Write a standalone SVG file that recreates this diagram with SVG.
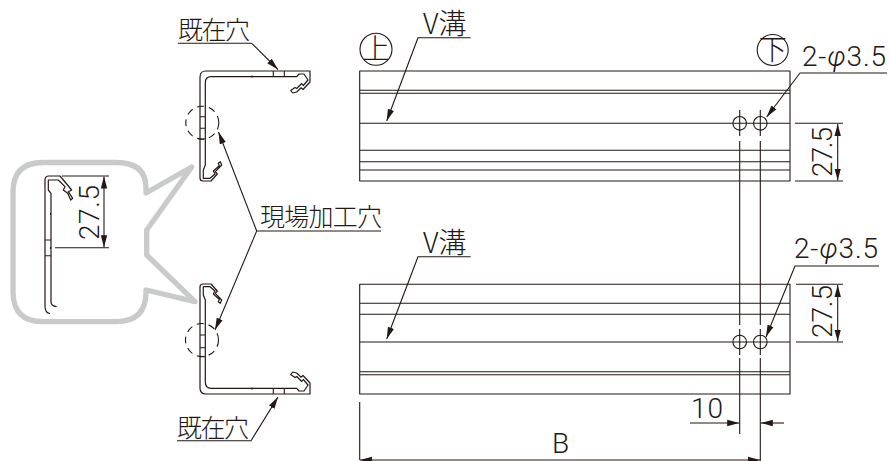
<svg xmlns="http://www.w3.org/2000/svg" width="889" height="461" viewBox="0 0 889 461">
<style>
.l{fill:none;stroke:#231815;stroke-width:1.1;stroke-linejoin:round}
.a{marker-end:url(#ar)}
.b{marker-start:url(#arS);marker-end:url(#ar)}
.p{fill:none;stroke:#231815;stroke-width:1.2;stroke-linejoin:round}
.t{font-family:Roboto,"Liberation Sans","Noto Sans CJK JP",sans-serif;font-weight:300;fill:#231815;font-size:28px}
.j{font-family:"Noto Sans CJK JP","Liberation Sans",sans-serif;font-weight:300;fill:#231815;font-size:25px}
.k{font-size:28px}
</style>
<defs>
<marker id="ar" markerUnits="userSpaceOnUse" markerWidth="13" markerHeight="8" refX="12" refY="4" orient="auto"><path d="M0,0.8 L12,4 L0,7.2Z" fill="#231815"/></marker>
<marker id="arS" markerUnits="userSpaceOnUse" markerWidth="13" markerHeight="8" refX="0" refY="4" orient="auto"><path d="M12,0.8 L0,4 L12,7.2Z" fill="#231815"/></marker>
<g id="profile">
<path class="p" d="M310,71 H206 Q200,71 200,77 V178 Q200,181 203,181 H211 L217.3,174 L215.3,171.7 L221.7,165 L220.3,161.7 L218.3,163.3 L219.3,165.7 L213.3,171 L215,174 L210,178.3 H203.3 V170 L205.3,165 V83 Q205.3,76.7 211,76.7 H296.7 L299,74 H304 L308,80 L303.3,85.5 L301.7,83.5 L296.7,88.5 L295,87.5 L290.7,90.5 L292.7,93 L296.7,92 L301,87.8 L303,89.5 L310,82 Z"/>
<path class="l" d="M273.3,71 V76.7 M284.3,71 V76.7 M252,75.5 V77.5"/>
</g>
</defs>

<g id="bubble">
<path d="M43,162.5 H116 Q146,162.5 146,188 V193 L191.7,167 L146.7,230 V255 L195,301.7 L146,290 V292 Q146,321.7 116,321.7 H43 Q13,321.7 13,292 V192 Q13,162.5 43,162.5 Z" fill="none" stroke="#c9caca" stroke-width="5.3" stroke-linejoin="round"/>
<path class="p" d="M50,313.5 Q45,313 45,306 V180 Q45,176 49,176 H60 L71.7,190 L68.3,191.7 L72.7,198.3 L70.7,200 L67.7,193.3 L63.3,190 L65,186.7 L58.3,180 H48.3 V190 L51,193.3 V302 Q51,306 56.7,306.7"/>
<path class="l" d="M45,240 H51 M45,255.7 H51 M50.5,213 V215 M50.5,247 V249"/>
<path class="l" d="M62,176 H109 M55,247.7 H109"/>
<path class="l b" d="M104,176.5 V247.2"/>
<text class="t" transform="translate(99,240) rotate(-90)" textLength="55">27.5</text>
</g>

<g id="connectors">
<path class="l a" d="M178,43.3 H251.7 L278,69.5"/>
<path class="l a" d="M177,440.7 H251 L278,397"/>
<path class="l" d="M381,231 H256.7"/>
<path class="l a" d="M256.7,231 L218.5,132"/>
<path class="l a" d="M256.7,231 L215,330"/>
<path class="l a" d="M470.7,37.7 H418 L386.7,121"/>
<path class="l a" d="M470.7,256.7 H418 L386.7,339"/>
<path class="l a" d="M887,73 H800 L766.7,117"/>
<path class="l a" d="M879,266 H795 L766,337"/>
<path class="l" d="M739.7,110 V136 M739.7,141 V325 M739.7,329 V355 M739.7,358 V434 M760.3,110 V136 M760.3,141 V325 M760.3,329 V355 M760.3,358 V461"/>
<path class="l" d="M795,123.3 H843 M795,181 H843 M796,284.3 H843 M796,342 H843"/>
<path class="l b" d="M837.7,124 V180.5"/>
<path class="l b" d="M837.7,285 V341.5"/>
<path class="l a" d="M690,423 H739.2"/>
<path class="l a" d="M784,423 H760.8"/>
<path class="l" d="M359.7,402 V460"/>
<path class="l b" d="M360,460 H760"/>
</g>

<g id="profile-top"><use href="#profile"/>
<path class="l" d="M200,116.7 H205 M200,128.3 H205 M200,139 H205"/>
<circle cx="202.3" cy="122.7" r="16.5" class="l" stroke-dasharray="7 5"/>
</g>
<g id="profile-bottom"><use href="#profile" transform="matrix(1 0 0 -1 0 465)"/>
<path class="l" d="M200,335 H205 M200,347.7 H205 M200,356.7 H205"/>
<circle cx="202" cy="340" r="16.5" class="l" stroke-dasharray="7 5"/>
</g>

<g id="panel-top">
<rect x="359.7" y="71" width="430.3" height="110" class="l"/>
<path class="l" d="M359.7,90.3 H790 M359.7,93.3 H790 M359.7,123.3 H790 M359.7,150.3 H790 M359.7,161.7 H790 M359.7,170 H790"/>
<circle cx="739.7" cy="123.3" r="6.8" class="l"/><circle cx="760.3" cy="123.3" r="6.8" class="l"/>
</g>
<g id="panel-bottom">
<rect x="359.7" y="284.3" width="430.3" height="109.7" class="l"/>
<path class="l" d="M359.7,303.3 H790 M359.7,314.3 H790 M359.7,342 H790 M359.7,371.7 H790 M359.7,374.7 H790"/>
<circle cx="739.7" cy="342" r="6.8" class="l"/><circle cx="760.3" cy="342" r="6.8" class="l"/>
</g>

<g id="mark-up"><circle cx="376" cy="49.3" r="16" class="l"/><text class="j k" x="376" y="59" text-anchor="middle">上</text></g>
<g id="mark-down"><circle cx="772.7" cy="50" r="15.5" class="l"/><text class="j k" x="772.7" y="60" text-anchor="middle">下</text></g>

<g id="labels">
<text class="j" x="178" y="39" textLength="72">既在穴</text>
<text class="j" x="177" y="436.5" textLength="72">既在穴</text>
<text class="j" x="260" y="226" textLength="122">現場加工穴</text>
<text class="j k" x="423" y="33.5">V溝</text>
<text class="j k" x="423" y="252.5">V溝</text>
<text class="t" x="802" y="66" textLength="84">2-<tspan font-style="italic">φ</tspan>3.5</text>
<text class="t" x="794" y="258" textLength="84">2-<tspan font-style="italic">φ</tspan>3.5</text>
<text class="t" transform="translate(831.5,177) rotate(-90)" textLength="50">27.5</text>
<text class="t" transform="translate(832,338) rotate(-90)" textLength="53">27.5</text>
<text class="t" x="691" y="418" textLength="32">10</text>
<text class="t" x="552" y="453">B</text>
</g>
</svg>
